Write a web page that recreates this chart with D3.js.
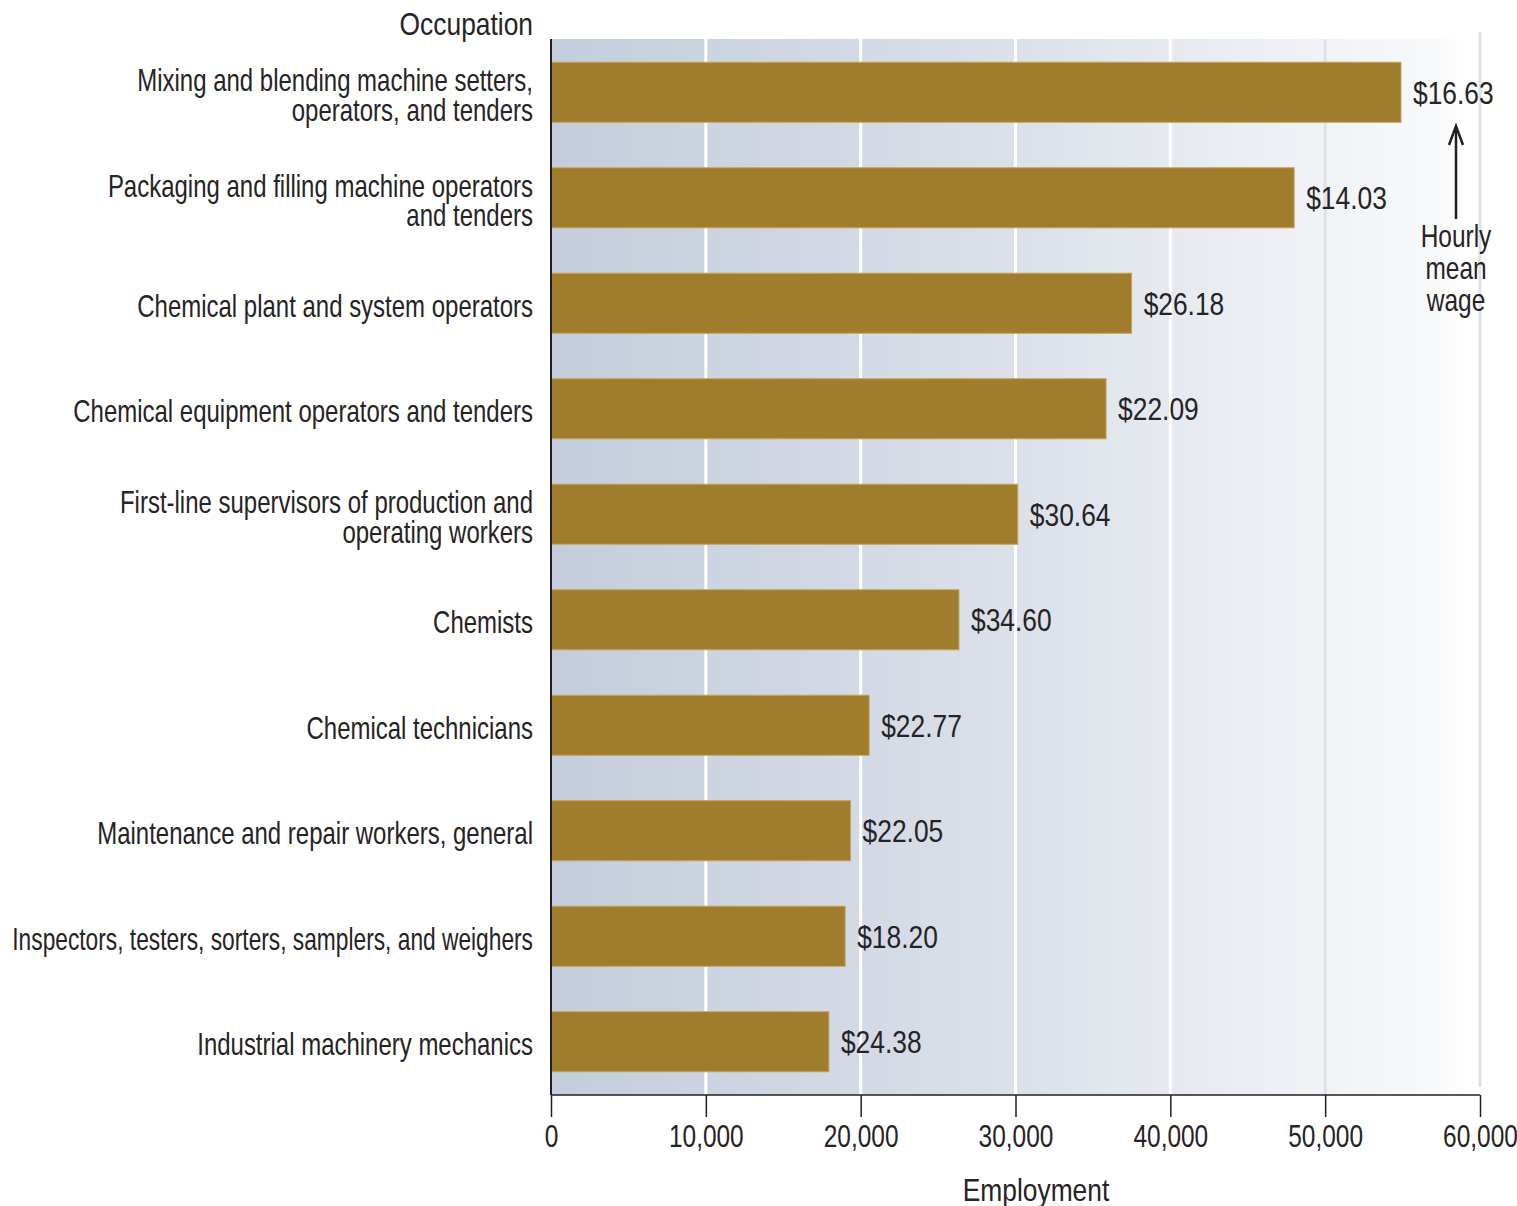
<!DOCTYPE html>
<html><head><meta charset="utf-8">
<script src="https://cdn.jsdelivr.net/npm/d3@7"></script>
<style>
html,body{margin:0;padding:0;background:#fff;}
text{font-family:"Liberation Sans",Arial,sans-serif;fill:#262324;}
</style></head>
<body>
<svg id="chart" width="1517" height="1206"></svg>
<script>
const occupations = [
  ["Mixing and blending machine setters,", "operators, and tenders"],
  ["Packaging and filling machine operators", "and tenders"],
  ["Chemical plant and system operators"],
  ["Chemical equipment operators and tenders"],
  ["First-line supervisors of production and", "operating workers"],
  ["Chemists"],
  ["Chemical technicians"],
  ["Maintenance and repair workers, general"],
  ["Inspectors, testers, sorters, samplers, and weighers"],
  ["Industrial machinery mechanics"]
];
const employment = [54900, 48000, 37500, 35850, 30150, 26350, 20550, 19350, 19000, 17950];
const wages = ["$16.63", "$14.03", "$26.18", "$22.09", "$30.64", "$34.60", "$22.77", "$22.05", "$18.20", "$24.38"];
const xTicks = [0, 10000, 20000, 30000, 40000, 50000, 60000];
const annotation = ["Hourly", "mean", "wage"];

(function () {
const svg = d3.select("#chart");
const pL = 551, pR = 1480, pT = 39, pB = 1095;
const FS = 30.5;
const LINE = 29.5;
const labelX = 533, labelMaxW = 521;

const probe = svg.append("text").attr("font-size", FS).text("Chemical equipment operators and tenders");
const k0 = 460 / probe.node().getComputedTextLength();
probe.remove();
const kLabel = k0, kWide = k0 * 1.1, kTick = k0 * 1.02;

function addText(parent, x, y, lines, anchor, kk, maxW, lineH) {
  if (!Array.isArray(lines)) lines = [lines];
  const n = lines.length;
  const lh = lineH || LINE;
  const t = parent.append("text")
    .attr("text-anchor", anchor || "start")
    .attr("font-size", FS);
  let maxLen = 0;
  lines.forEach((line, j) => {
    const ts = t.append("tspan").attr("x", 0)
      .attr("y", (j - (n - 1) / 2) * lh).attr("dy", "0.35em").text(line);
    maxLen = Math.max(maxLen, ts.node().getComputedTextLength());
  });
  let s = kk;
  if (maxW) s = Math.min(kk, maxW / maxLen);
  t.attr("transform", `translate(${x},${y}) scale(${s},1)`);
  return t;
}

const x = d3.scaleLinear().domain([0, 60000]).range([pL, pR]);
const y = d3.scaleBand().domain(d3.range(occupations.length)).range([pT, pB])
  .paddingInner(0.43).paddingOuter(0.22);

const defs = svg.append("defs");
const grad = defs.append("linearGradient").attr("id", "bg").attr("x1", "0").attr("x2", "1").attr("y1", "0").attr("y2", "0");
grad.append("stop").attr("offset", "0").attr("stop-color", "#c4cddc");
grad.append("stop").attr("offset", "0.5").attr("stop-color", "#dbe0e9");
grad.append("stop").attr("offset", "0.97").attr("stop-color", "#f8f9fb");
grad.append("stop").attr("offset", "1").attr("stop-color", "#ffffff");

svg.append("rect").attr("x", pL).attr("y", pT).attr("width", x(59000) - pL).attr("height", pB - pT)
  .attr("fill", "url(#bg)");

svg.append("g").selectAll("line").data(xTicks.filter(d => d > 0)).join("line")
  .attr("x1", d => x(d)).attr("x2", d => x(d))
  .attr("y1", d => d === 60000 ? pT - 7 : pT).attr("y2", d => d === 60000 ? pB - 8 : pB)
  .attr("stroke", d => d >= 50000 ? "#dde2ea" : "#ffffff")
  .attr("stroke-width", 3);

svg.append("g").selectAll("rect").data(employment).join("rect")
  .attr("x", x(0)).attr("y", (d, i) => y(i))
  .attr("width", d => x(d) - x(0)).attr("height", y.bandwidth())
  .attr("fill", "#a07d2c").attr("stroke", "#c6a865").attr("stroke-width", 1);

const gw = svg.append("g");
wages.forEach((w, i) => addText(gw, x(employment[i]) + 12, y(i) + y.bandwidth() / 2 + 1, w, "start", kWide));

const gl = svg.append("g");
occupations.forEach((lines, i) => {
  addText(gl, labelX, y(i) + y.bandwidth() / 2 + 3, lines, "end", kLabel, labelMaxW);
});

const xAxis = d3.axisBottom(x).tickValues(xTicks).tickSize(22).tickPadding(8)
  .tickFormat(d3.format(","));
const gx = svg.append("g").attr("transform", `translate(0,${pB})`).call(xAxis);
gx.select(".domain").attr("stroke", "#231f20").attr("stroke-width", 1.5).attr("d", `M${pL},0H${pR}`);
gx.selectAll(".tick line").attr("stroke", "#231f20").attr("stroke-width", 1.5);
gx.selectAll(".tick text").attr("font-size", FS).attr("fill", "#262324")
  .attr("font-family", '"Liberation Sans",Arial,sans-serif')
  .attr("transform", `scale(${kTick},1)`);

svg.append("line").attr("x1", pL).attr("x2", pL).attr("y1", pT).attr("y2", pB)
  .attr("stroke", "#231f20").attr("stroke-width", 2);

addText(svg, labelX, 24, "Occupation", "end", kWide);
addText(svg, 1036, 1190, "Employment", "middle", kWide);
addText(svg, 1487, 1218, "53", "start", kWide);

const ax = 1456;
svg.append("line").attr("x1", ax).attr("x2", ax).attr("y1", 219).attr("y2", 127)
  .attr("stroke", "#231f20").attr("stroke-width", 2.5);
svg.append("path").attr("d", `M${ax - 7},${145}L${ax},${126}L${ax + 7},${145}`)
  .attr("fill", "none").attr("stroke", "#231f20").attr("stroke-width", 2.5);
addText(svg, ax, 268, annotation, "middle", kTick, null, 32);
})();
</script>
</body></html>
